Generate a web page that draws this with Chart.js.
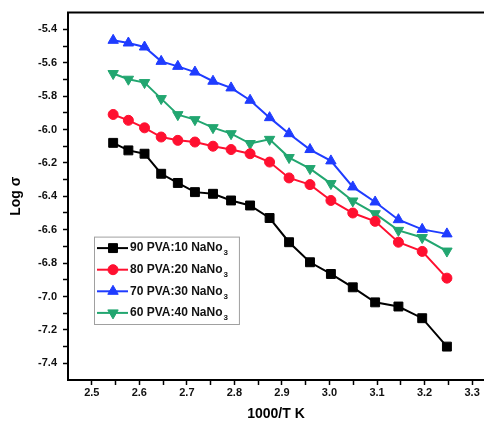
<!DOCTYPE html>
<html lang="en">
<head>
<meta charset="UTF-8">
<title>Log σ vs 1000/T</title>
<script src="https://cdn.jsdelivr.net/npm/chart.js"></script>
<style>
  body { margin: 0; background: #fff; }
  #wrap { width: 484px; height: 429px; }
</style>
</head>
<body>
<div id="wrap"><canvas id="cond" width="484" height="429"></canvas></div>
<script>
// 1000/T (K^-1), same temperatures for all four films
const invT = [2.545, 2.577, 2.611, 2.646, 2.681, 2.717, 2.755, 2.793, 2.833,
              2.874, 2.915, 2.959, 3.003, 3.049, 3.096, 3.145, 3.195, 3.247];

// log sigma
const logS90 = [-6.08, -6.125, -6.145, -6.265, -6.32, -6.375, -6.385, -6.425, -6.455,
                -6.53, -6.675, -6.795, -6.865, -6.945, -7.035, -7.06, -7.13, -7.30];
const logS80 = [-5.91, -5.945, -5.99, -6.045, -6.065, -6.075, -6.10, -6.12, -6.145,
                -6.195, -6.29, -6.33, -6.425, -6.50, -6.55, -6.675, -6.73, -6.89];
const logS70 = [-5.466, -5.482, -5.506, -5.592, -5.622, -5.656, -5.711, -5.751, -5.825,
                -5.929, -6.025, -6.12, -6.188, -6.344, -6.434, -6.54, -6.598, -6.625];
const logS60 = [-5.665, -5.699, -5.719, -5.815, -5.911, -5.941, -5.989, -6.025, -6.084,
                -6.059, -6.168, -6.234, -6.324, -6.428, -6.504, -6.604, -6.647, -6.728];

const seriesNames = ['90 PVA:10 NaNo₃', '80 PVA:20 NaNo₃', '70 PVA:30 NaNo₃', '60 PVA:40 NaNo₃'];

// tick positions (labels only on the round ones)
const xTicks = [2.5, 2.55, 2.6, 2.65, 2.7, 2.75, 2.8, 2.85, 2.9, 2.95, 3.0, 3.05, 3.1, 3.15, 3.2, 3.25, 3.3];
const yTicks = [-7.4, -7.3, -7.2, -7.1, -7.0, -6.9, -6.8, -6.7, -6.6, -6.5, -6.4,
                -6.3, -6.2, -6.1, -6.0, -5.9, -5.8, -5.7, -5.6, -5.5, -5.4];

const FONT = 'Arial, "Liberation Sans", sans-serif';

function pts(ys) {
    return invT.map((x, i) => ({ x: x, y: ys[i] }));
}

function series(label, ys, color, style, radius, rot) {
    return {
        label: label,
        data: pts(ys),
        borderColor: color,
        backgroundColor: color,
        borderWidth: 2,
        pointStyle: style,
        pointRadius: radius,
        pointRotation: rot || 0,
        pointBorderWidth: 1,
        tension: 0
    };
}

// top frame line (the right side of the frame is cut off in the original)
const topFrame = {
    id: 'topFrame',
    afterDraw(chart) {
        const a = chart.chartArea, ctx = chart.ctx;
        ctx.save();
        ctx.strokeStyle = '#000';
        ctx.lineWidth = 2;
        ctx.beginPath();
        ctx.moveTo(a.left - 1, a.top);
        ctx.lineTo(a.right, a.top);
        ctx.stroke();
        ctx.restore();
    }
};

// legend box inside the plot, with subscript 3
const insideLegend = {
    id: 'insideLegend',
    afterDraw(chart) {
        const ctx = chart.ctx;
        const sets = chart.data.datasets;
        const x0 = chart.chartArea.left + 26;
        const y0 = chart.chartArea.top + 224;
        const rowH = 21.6;
        const bigFont = 'bold 12px ' + FONT;
        const subFont = 'bold 8px ' + FONT;
        ctx.save();
        let maxW = 0;
        sets.forEach(ds => {
            const main = ds.label.replace('₃', '');
            ctx.font = bigFont;
            let w = ctx.measureText(main).width;
            ctx.font = subFont;
            w += ctx.measureText('3').width;
            maxW = Math.max(maxW, w);
        });
        const textX = x0 + 36;
        const boxW = textX - x0 + maxW + 12;
        const boxH = rowH * sets.length + 1;
        ctx.strokeStyle = '#a0a0a0';
        ctx.lineWidth = 1;
        ctx.strokeRect(x0 + 0.5, y0 + 0.5, boxW, boxH);

        sets.forEach((ds, i) => {
            const y = y0 + 11.5 + i * rowH;
            ctx.strokeStyle = ds.borderColor;
            ctx.lineWidth = 2;
            ctx.beginPath();
            ctx.moveTo(x0 + 3, y);
            ctx.lineTo(x0 + 34, y);
            ctx.stroke();
            ctx.fillStyle = ds.backgroundColor;
            ctx.lineWidth = 1;
            Chart.helpers.drawPoint(ctx, {
                pointStyle: ds.pointStyle,
                rotation: ds.pointRotation,
                radius: ds.pointRadius,
                borderWidth: 1
            }, x0 + 19, y);

            const main = ds.label.replace('₃', '');
            ctx.fillStyle = '#111';
            ctx.textBaseline = 'middle';
            ctx.textAlign = 'left';
            ctx.font = bigFont;
            ctx.fillText(main, textX, y);
            const w = ctx.measureText(main).width;
            ctx.font = subFont;
            ctx.fillText('3', textX + w + 1, y + 5);
        });
        ctx.restore();
    }
};

new Chart(document.getElementById('cond'), {
    type: 'line',
    data: {
        datasets: [
            series(seriesNames[0], logS90, '#000000', 'rect', 6.3),
            series(seriesNames[1], logS80, '#ff1030', 'circle', 5),
            series(seriesNames[2], logS70, '#1f3cff', 'triangle', 6),
            series(seriesNames[3], logS60, '#22a670', 'triangle', 6, 180)
        ]
    },
    options: {
        responsive: false,
        animation: false,
        layout: { padding: { top: 12, right: 0, left: 0, bottom: 0 }, autoPadding: false },
        plugins: {
            legend: { display: false },
            tooltip: { enabled: false }
        },
        scales: {
            x: {
                type: 'linear',
                min: 2.45,
                max: 3.325,
                afterFit: s => { s.height = 49; },
                afterBuildTicks: s => { s.ticks = xTicks.map(v => ({ value: v })); },
                border: { color: '#000', width: 2 },
                grid: { drawOnChartArea: false, drawTicks: true, tickLength: 5, tickColor: '#000', tickWidth: 1.5 },
                ticks: {
                    autoSkip: false,
                    maxRotation: 0,
                    padding: 1,
                    color: '#111',
                    font: { family: FONT, size: 11, weight: 'bold' },
                    callback: v => (Math.round(v * 100) % 10 === 0 ? v.toFixed(1) : '')
                },
                title: {
                    display: true,
                    text: '1000/T K',
                    color: '#000',
                    font: { family: FONT, size: 14, weight: 'bold' },
                    padding: { top: 0, bottom: 6 }
                }
            },
            y: {
                type: 'linear',
                min: -7.5,
                max: -5.3,
                afterFit: s => { s.width = 68; },
                afterBuildTicks: s => { s.ticks = yTicks.map(v => ({ value: v })); },
                border: { color: '#000', width: 2 },
                grid: { drawOnChartArea: false, drawTicks: true, tickLength: 5, tickColor: '#000', tickWidth: 1.5 },
                ticks: {
                    autoSkip: false,
                    padding: 6,
                    color: '#111',
                    font: { family: FONT, size: 11, weight: 'bold' },
                    callback: v => (Math.round(v * 10) % 2 === 0 ? v.toFixed(1) : '')
                },
                title: {
                    display: true,
                    text: 'Log σ',
                    color: '#000',
                    font: { family: FONT, size: 14, weight: 'bold' },
                    padding: { top: 8, bottom: 0 }
                }
            }
        }
    },
    plugins: [topFrame, insideLegend]
});
</script>
</body>
</html>
